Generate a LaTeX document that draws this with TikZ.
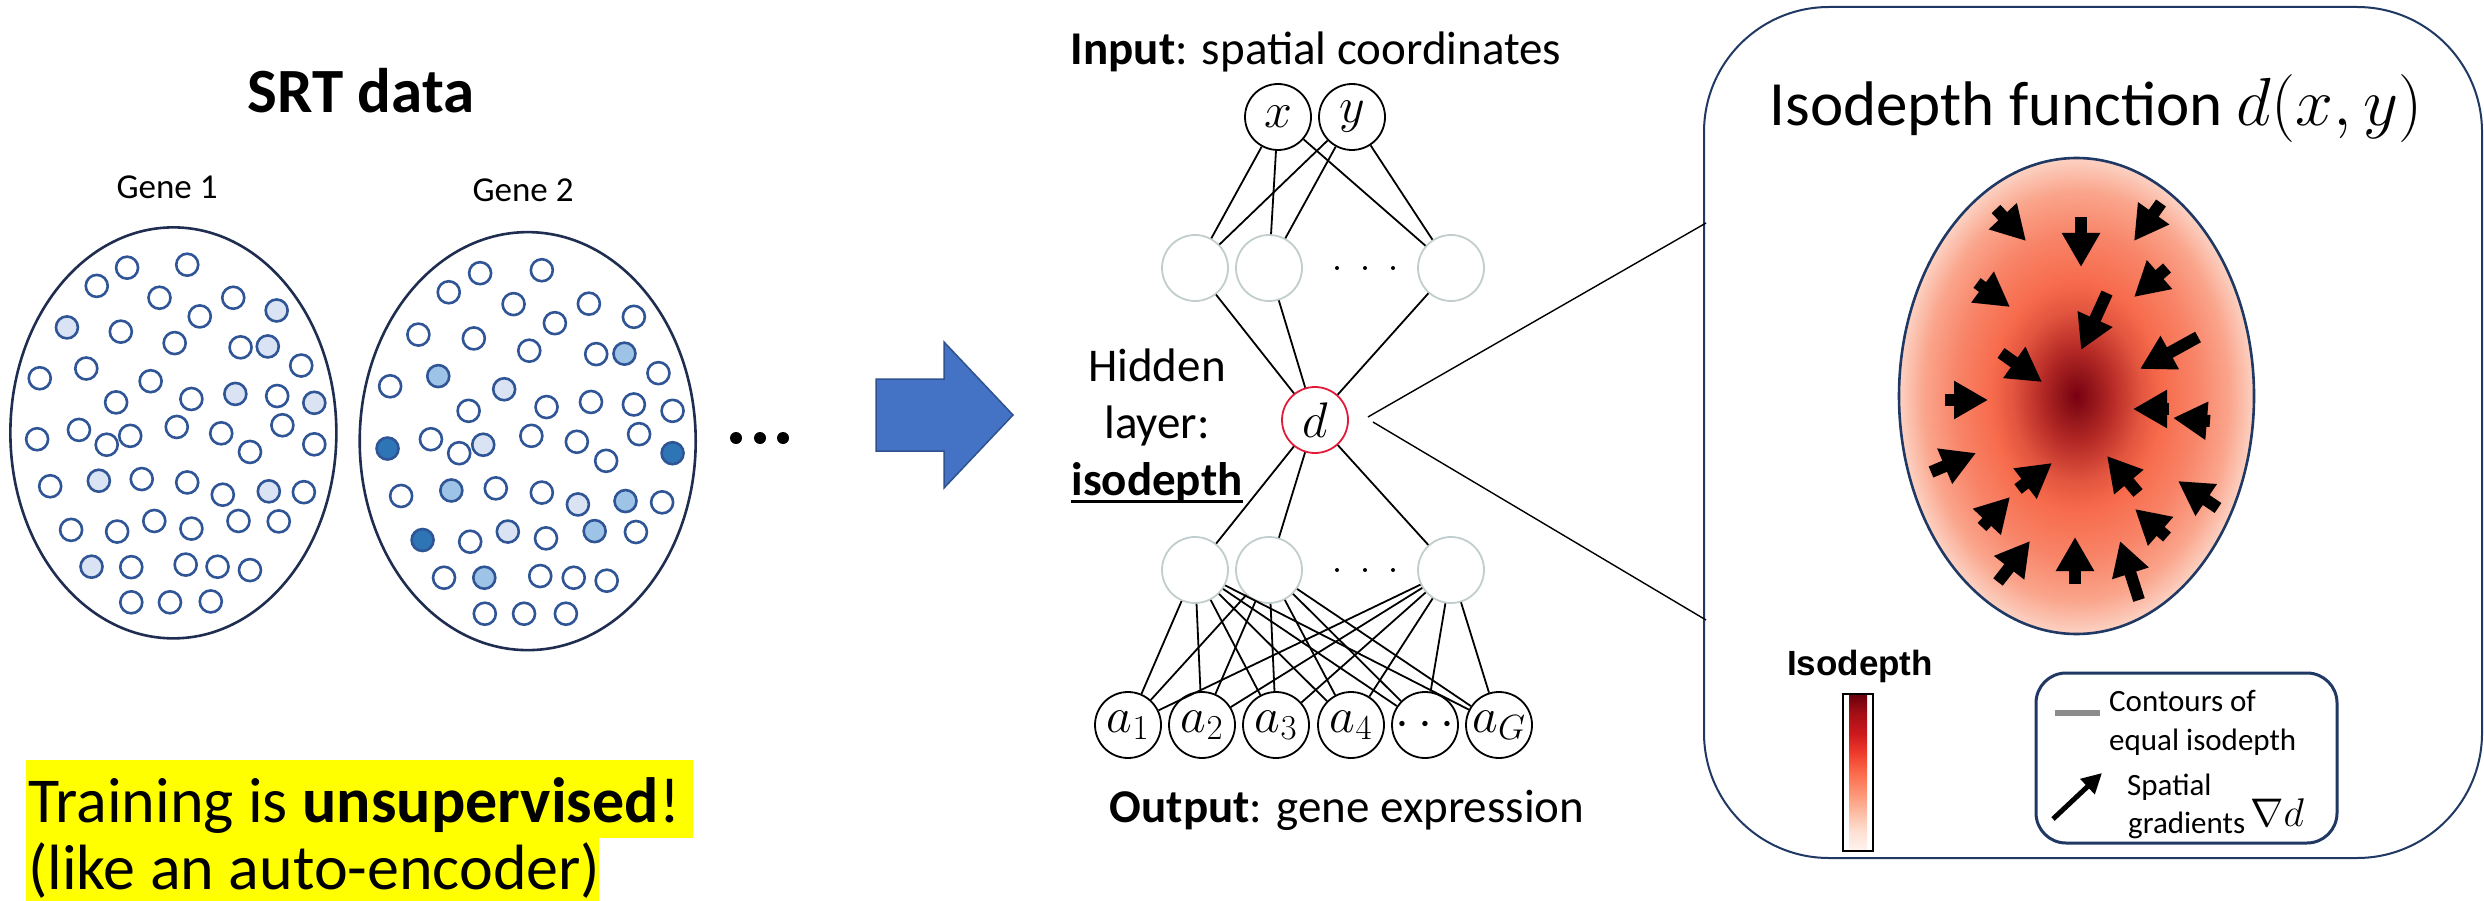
\documentclass[tikz,border=0pt]{standalone}
\usepackage{fix-cm}
\usepackage[no-math]{fontspec}
\setmainfont{Carlito}
\newfontfamily\headfont{Liberation Sans}
\usetikzlibrary{arrows.meta,calc,shapes.geometric}

% palette
\definecolor{cellline}{HTML}{2F5597}
\definecolor{cellpale}{HTML}{DAE3F3}
\definecolor{cellmid}{HTML}{9DC3E6}
\definecolor{celldark}{HTML}{2E75B6}
\definecolor{tissueline}{HTML}{1F2D50}
\definecolor{hiddenline}{HTML}{C2CDCD}
\definecolor{isored}{HTML}{E31B3B}
\definecolor{flowblue}{HTML}{4472C4}
\definecolor{flowblueline}{HTML}{2F528F}
\definecolor{panelline}{HTML}{203864}
\definecolor{marker}{HTML}{FFFF00}
\definecolor{contourgray}{HTML}{8C8C8C}

% radial heat map of the isodepth (the path edge lies at 25bp)
\definecolor{hm0}{HTML}{7A0012}
\definecolor{hm1}{HTML}{8E1218}
\definecolor{hm2}{HTML}{B52A26}
\definecolor{hm3}{HTML}{E2553F}
\definecolor{hm4}{HTML}{F76B4C}
\definecolor{hm5}{HTML}{F88468}
\definecolor{hm6}{HTML}{FAA58C}
\definecolor{hm7}{HTML}{FCD2C3}
\pgfdeclareradialshading{heatmap}{\pgfpoint{0bp}{0bp}}{%
  color(0bp)=(hm0); color(2bp)=(hm1); color(5bp)=(hm2); color(9bp)=(hm3);
  color(12bp)=(hm4); color(17bp)=(hm5); color(21.5bp)=(hm6); color(25bp)=(hm7);
  color(50bp)=(hm7)}

% colour bar (Reds), spread over the central 25bp..75bp band
\definecolor{rb0}{HTML}{FFF5F0}
\definecolor{rb1}{HTML}{FEE0D2}
\definecolor{rb2}{HTML}{FCBBA1}
\definecolor{rb3}{HTML}{FC9272}
\definecolor{rb4}{HTML}{FB6A4A}
\definecolor{rb5}{HTML}{EF3B2C}
\definecolor{rb6}{HTML}{CB181D}
\definecolor{rb7}{HTML}{A50F15}
\definecolor{rb8}{HTML}{67000D}
\pgfdeclareverticalshading{redsbar}{30bp}{%
  color(0bp)=(rb0); color(25bp)=(rb0); color(31.25bp)=(rb1); color(37.5bp)=(rb2);
  color(43.75bp)=(rb3); color(50bp)=(rb4); color(56.25bp)=(rb5); color(62.5bp)=(rb6);
  color(68.75bp)=(rb7); color(75bp)=(rb8); color(100bp)=(rb8)}

\begin{document}
\begin{tikzpicture}[x=1pt,y=-1pt,
  cell/.style={circle,draw=cellline,line width=2.6pt,minimum size=22pt,inner sep=0pt,fill=white},
  pale/.style={cell,fill=cellpale},
  midcell/.style={cell,fill=cellmid},
  darkcell/.style={cell,fill=celldark},
  tissue/.style={ellipse,draw=tissueline,line width=2.6pt,inner sep=0pt},
  neuron/.style={circle,draw=black,line width=1.8pt,minimum size=66pt,inner sep=0pt,
                 font=\fontsize{50}{50}\selectfont},
  hiddenunit/.style={neuron,draw=hiddenline},
  link/.style={line width=1.8pt},
  txt/.style={inner sep=0pt,anchor=base},
  dot/.style={circle,fill=black,inner sep=0pt,minimum size=#1},
  gradarrow/.style={line width=12pt,-{Triangle[length=34pt,width=36pt]}},
]
\useasboundingbox (0,0) rectangle (2484,901);
\fill[white] (0,0) rectangle (2484,901);

% ---------------- SRT data ----------------
\node[txt,font=\fontsize{63}{70}\selectfont\bfseries] (srt) at (361,113) {SRT data};
\node[txt,font=\fontsize{35}{40}\selectfont] (geneAlab) at (167,199) {Gene 1};
\node[txt,font=\fontsize{35}{40}\selectfont] (geneBlab) at (523,202) {Gene 2};

\begin{scope}[x=0.5230pt,y=-0.42355pt]
  \node[tissue,minimum width=326pt,minimum height=411pt] (tissueA) at (331.5,1022) {};
  \node[tissue,minimum width=336pt,minimum height=418pt] (tissueB) at (1009,1041.5) {};
  % gene 1
  \foreach \px/\py [count=\i] in {243/632,358/625,185/675,305/703,446/703,231/783,382/747,
      334/810,460/820,576/863,76/893,165/870,288/900,222/950,366/942,530/935,71/1037,
      151/1015,204/1050,249/1029,338/1008,423/1023,540/1004,478/1067,601/1049,96/1148,
      271/1131,358/1139,426/1168,581/1162,136/1251,224/1255,295/1230,366/1248,456/1230,
      533/1231,251/1339,355/1333,416/1338,478/1346,251/1422,325/1422,403/1420}
    \node[cell] (cA\i) at (\px,\py) {};
  \foreach \px/\py [count=\i] in {529/733,128/773,512/818,450/930,601/951,189/1135,
      514/1160,175/1338}
    \node[pale] (pA\i) at (\px,\py) {};
  % gene 2
  \foreach \px/\py [count=\i] in {918/645,1036/638,858/690,982/718,1126/717,1212/748,
      800/790,906/799,1061/763,1012/828,1140/836,1259/881,746/912,896/970,1045/961,
      1130/949,1212/955,1286/970,824/1037,878/1070,1016/1029,1103/1043,1222/1025,
      1159/1088,767/1171,948/1153,1036/1163,1266/1186,899/1279,1044/1271,1216/1256,
      849/1364,1033/1360,1097/1364,1160/1371,927/1449,1002/1449,1082/1449}
    \node[cell] (cB\i) at (\px,\py) {};
  \foreach \px/\py [count=\i] in {964/919,924/1050,1105/1191,971/1255}
    \node[pale] (pB\i) at (\px,\py) {};
  \foreach \px/\py [count=\i] in {1194/835,838/888,863/1158,1196/1183,1137/1254,926/1364}
    \node[midcell] (mB\i) at (\px,\py) {};
  \foreach \px/\py [count=\i] in {741/1059,1286/1070,808/1275}
    \node[darkcell] (dB\i) at (\px,\py) {};
\end{scope}

\node[dot=12pt] (more1) at (736,438) {};
\node[dot=12pt] (more2) at (760,438) {};
\node[dot=12pt] (more3) at (783,438) {};

% highlighted remark
\fill[marker] (26,760) rectangle (693,838);
\fill[marker] (26,838) rectangle (599,901);
\node[txt,anchor=base west,font=\fontsize{64}{70}\selectfont] (trainA) at (28,822)
  {Training is \textbf{unsupervised}!};
\node[txt,anchor=base west,font=\fontsize{64}{70}\selectfont] (trainB) at (28,889)
  {(like an auto-encoder)};

% big block arrow
\filldraw[fill=flowblue,draw=flowblueline,line width=1.5pt]
  (876,379) -- (944,379) -- (944,342) -- (1013,415) -- (944,488) -- (944,451) -- (876,451) -- cycle;

% ---------------- network ----------------
\node[txt,font=\fontsize{47}{56}\selectfont] (inlab) at (1316,65) {\textbf{Input}: spatial coordinates};
\node[txt,font=\fontsize{47}{56}\selectfont] (outlab) at (1347,822) {\textbf{Output}: gene expression};
\node[txt,font=\fontsize{47}{56}\selectfont] (hidA) at (1157,381) {Hidden};
\node[txt,font=\fontsize{47}{56}\selectfont] (hidB) at (1157,438) {layer:};
\node[txt,font=\fontsize{47}{56}\selectfont\bfseries] (hidC) at (1157,495) {isodepth};
\draw[line width=3pt] ($(hidC.base west)+(0,6)$) -- ($(hidC.base east)+(0,6)$);

\node[neuron] (x) at (1278,117) {$x$};
\node[neuron] (y) at (1352,117) {$y$};
\node[hiddenunit] (h1) at (1195,268) {};
\node[hiddenunit] (h2) at (1269,268) {};
\node[hiddenunit] (h3) at (1451,268) {};
\node[dot=4pt] (hd1) at (1337,268) {};
\node[dot=4pt] (hd2) at (1365,268) {};
\node[dot=4pt] (hd3) at (1393,268) {};
\node[neuron,draw=isored] (d) at (1315,420) {$d$};
\node[hiddenunit] (g1) at (1195,570) {};
\node[hiddenunit] (g2) at (1269,570) {};
\node[hiddenunit] (g3) at (1451,570) {};
\node[dot=4pt] (gd1) at (1337,570) {};
\node[dot=4pt] (gd2) at (1365,570) {};
\node[dot=4pt] (gd3) at (1393,570) {};
\node[neuron] (o1) at (1128,725) {$a_1$};
\node[neuron] (o2) at (1202,725) {$a_2$};
\node[neuron] (o3) at (1276,725) {$a_3$};
\node[neuron] (o4) at (1351,725) {$a_4$};
\node[neuron] (o5) at (1425,725) {$\cdots$};
\node[neuron] (o6) at (1499,725) {$a_G$};

\foreach \s in {x,y} \foreach \t in {h1,h2,h3} \draw[link] (\s) -- (\t);
\foreach \s in {h1,h2,h3} \draw[link] (\s) -- (d);
\foreach \t in {g1,g2,g3} \draw[link] (d) -- (\t);
\foreach \s in {g1,g2,g3} \foreach \t in {o1,o2,o3,o4,o5,o6} \draw[link] (\s) -- (\t);

% ---------------- isodepth panel ----------------
\node[draw=panelline,line width=2pt,rounded corners=125pt,minimum width=778pt,
      minimum height=851pt,inner sep=0pt] (panel) at (2093,432.5) {};
\coordinate (panelU) at (1706,223);
\coordinate (panelL) at (1706,620);
\draw[line width=1.4pt] ($(d.east)+(19,-3)$) -- (panelU);
\draw[line width=1.4pt] ($(d.east)+(24,2)$) -- (panelL);

\node[txt,font=\fontsize{63}{70}\selectfont] (ftitle) at (2096,126)
  {Isodepth function {\fontsize{68}{70}\selectfont$d(x,y)$}};

\node[ellipse,draw=panelline,line width=2.6pt,shade,shading=heatmap,minimum width=355pt,
      minimum height=476pt,inner sep=0pt] (heat) at (2076.5,396) {};

\foreach \tx/\ty/\hx/\hy in {1996/209/2026/241, 2081/217/2081/267, 2161/203/2134/241,
    1977/283/2010/307, 2167/268/2134/297, 2107/293/2081/350, 2198/337/2140/369,
    2001/353/2042/382, 1945/400/1988/400, 2169/409/2133/409, 2210/421/2173/418,
    1931/472/1976/453, 2018/489/2052/463, 2138/493/2107/456, 2218/508/2178/481,
    1982/527/2010/497, 2167/537/2135/509, 1998/582/2030/541, 2075/584/2075/537,
    2139/600/2120/541}
  \draw[gradarrow] (\tx,\ty) -- (\hx,\hy);

% colour bar
\node[txt,font=\headfont\bfseries\fontsize{35}{40}\selectfont] (cblab) at (1860,675) {Isodepth};
\node[draw=black,line width=1.5pt,shade,shading=redsbar,minimum width=30pt,
      minimum height=157pt,inner sep=0pt] (cbar) at (1858,772.5) {};

% legend
\node[draw=panelline,line width=3pt,rounded corners=30pt,minimum width=301pt,
      minimum height=170pt,inner sep=0pt] (legend) at (2186.5,758) {};
\draw[contourgray,line width=6pt] (2055,713) -- (2100,713);
\node[txt,anchor=base west,font=\fontsize{31}{36}\selectfont] (legA) at (2109,711) {Contours of};
\node[txt,anchor=base west,font=\fontsize{31}{36}\selectfont] (legB) at (2109,750) {equal isodepth};
\draw[line width=5pt,-{Triangle[length=20pt,width=20pt]}] (2053,819) -- (2102,773);
\node[txt,anchor=base west,font=\fontsize{31}{36}\selectfont] (legC) at (2127,795) {Spatial};
\node[txt,anchor=base west,font=\fontsize{31}{36}\selectfont] (legD) at (2128,833)
  {gradients\,\raisebox{7pt}{\fontsize{40}{40}\selectfont$\nabla d$}};
\end{tikzpicture}
\end{document}
